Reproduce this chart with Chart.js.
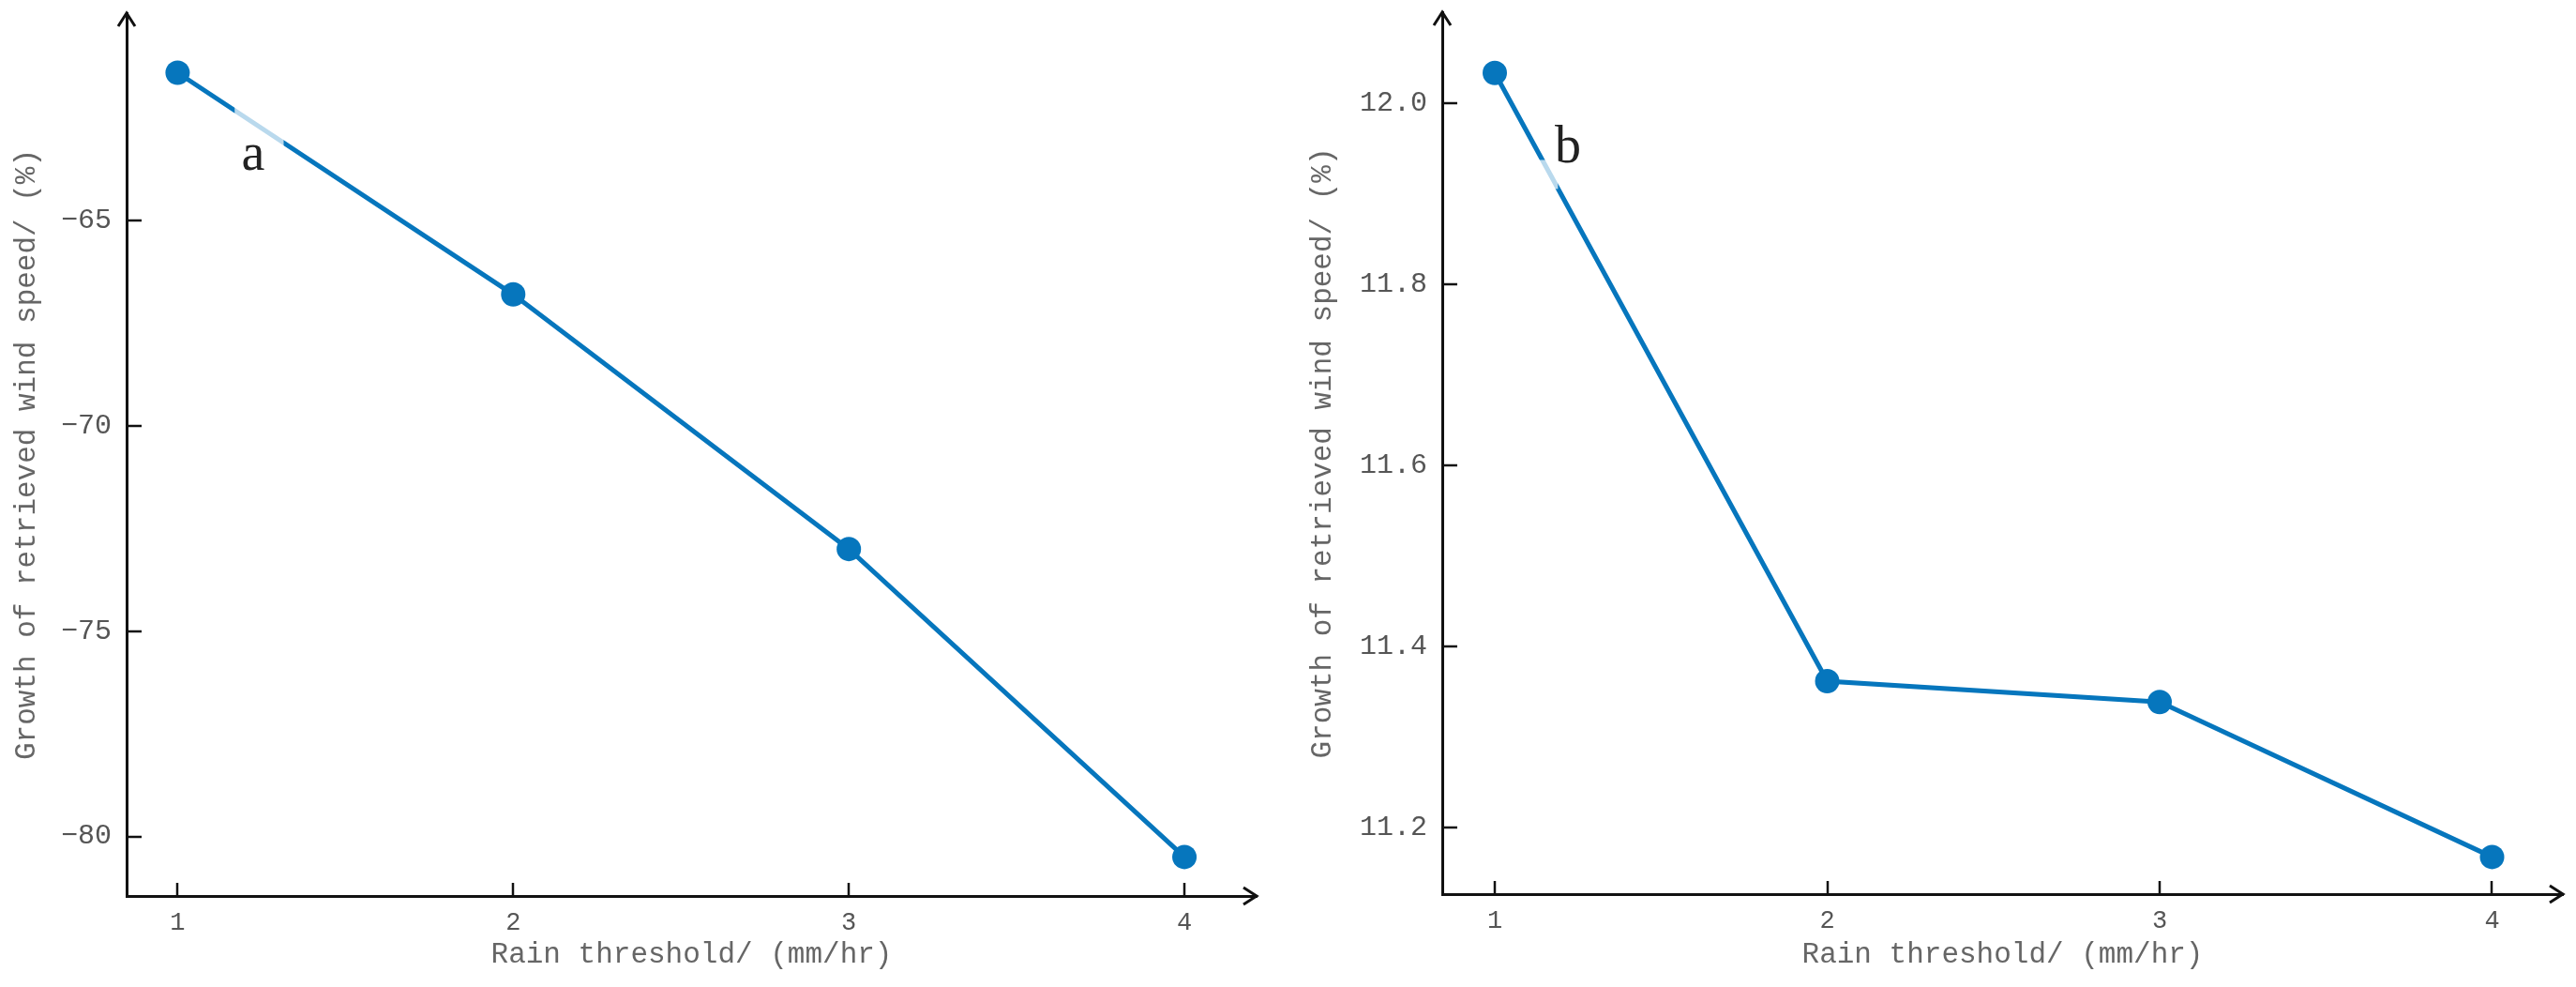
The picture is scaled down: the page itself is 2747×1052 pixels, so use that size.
<!DOCTYPE html>
<html><head><meta charset="utf-8">
<script src="https://cdn.jsdelivr.net/npm/chart.js@4/dist/chart.umd.min.js"></script>
<style>
html,body{margin:0;padding:0;background:#fff;width:2747px;height:1052px;overflow:hidden}
canvas{position:absolute;top:0}
#ca{left:0}
#cb{left:1380px}
</style></head><body>
<canvas id="ca" width="1380" height="1052"></canvas>
<canvas id="cb" width="1367" height="1052"></canvas>
<script>
const rainThresholds = [1, 2, 3, 4];
const xTickValues = [1, 2, 3, 4];
const growthA = [-61.4, -66.8, -73.0, -80.5];
const growthB = [12.033, 11.362, 11.339, 11.168];
const yTicksA = [-80, -75, -70, -65];
const yTicksB = [11.2, 11.4, 11.6, 11.8, 12.0];
const xTitle = 'Rain threshold/ (mm/hr)';
const yTitle = 'Growth of retrieved wind speed/ (%)';
const panelLabels = ['a', 'b'];

const LINE = '#0676bd';
const MONO = '"Liberation Mono", "DejaVu Sans Mono", monospace';

const decor = {
  id: 'decor',
  afterDatasetsDraw(chart, args, o) {
    const ctx = chart.ctx, x = chart.scales.x, y = chart.scales.y;
    ctx.save();
    const b = o.box;
    const x0 = x.getPixelForValue(b[0]), x1 = x.getPixelForValue(b[1]);
    const y0 = y.getPixelForValue(b[2]), y1 = y.getPixelForValue(b[3]);
    ctx.fillStyle = 'rgba(255,255,255,0.72)';
    ctx.fillRect(Math.min(x0, x1), Math.min(y0, y1), Math.abs(x1 - x0), Math.abs(y1 - y0));
    ctx.fillStyle = '#222';
    ctx.font = '56px "Liberation Serif", "DejaVu Serif", serif';
    ctx.textAlign = 'center';
    ctx.textBaseline = 'middle';
    ctx.fillText(o.label, x.getPixelForValue(o.pos[0]), y.getPixelForValue(o.pos[1]));
    ctx.restore();
  },
  afterDraw(chart) {
    const ctx = chart.ctx, x = chart.scales.x, y = chart.scales.y, a = chart.chartArea;
    ctx.save();
    ctx.strokeStyle = '#111';
    ctx.lineWidth = 2.5;
    y.ticks.forEach(t => {
      const py = Math.round(y.getPixelForValue(t.value));
      ctx.beginPath(); ctx.moveTo(a.left, py); ctx.lineTo(a.left + 16, py); ctx.stroke();
    });
    x.ticks.forEach(t => {
      const px = Math.round(x.getPixelForValue(t.value));
      ctx.beginPath(); ctx.moveTo(px, a.bottom); ctx.lineTo(px, a.bottom - 14); ctx.stroke();
    });
    ctx.lineWidth = 3;
    ctx.lineJoin = 'miter';
    ctx.beginPath(); ctx.moveTo(a.left - 9, a.top + 14); ctx.lineTo(a.left, a.top); ctx.lineTo(a.left + 9, a.top + 14); ctx.stroke();
    ctx.beginPath(); ctx.moveTo(a.right - 14, a.bottom - 9); ctx.lineTo(a.right, a.bottom); ctx.lineTo(a.right - 14, a.bottom + 9); ctx.stroke();
    ctx.restore();
  }
};

function makePanel(id, values, yTicks, cfg) {
  return new Chart(document.getElementById(id), {
    type: 'line',
    data: {
      datasets: [{
        data: rainThresholds.map((r, i) => ({x: r, y: values[i]})),
        borderColor: LINE,
        backgroundColor: LINE,
        borderWidth: 5,
        pointRadius: 13,
        pointBorderWidth: 0,
        pointBackgroundColor: LINE,
        tension: 0,
        clip: false
      }]
    },
    options: {
      responsive: false,
      devicePixelRatio: 1,
      animation: false,
      events: [],
      layout: {padding: cfg.padding},
      plugins: {
        legend: {display: false},
        tooltip: {enabled: false},
        decor: {label: cfg.label, pos: cfg.labelPos, box: cfg.box}
      },
      scales: {
        x: {
          type: 'linear',
          min: cfg.xMin, max: cfg.xMax,
          afterBuildTicks: s => { s.ticks = xTickValues.map(v => ({value: v})); },
          afterFit: s => { s.height = cfg.xHeight; s.paddingLeft = 0; s.paddingRight = 0; },
          grid: {display: false, drawTicks: false},
          border: {display: true, color: '#111', width: 3},
          ticks: {
            padding: 13, color: '#555',
            font: {family: MONO, size: 27},
            callback: v => String(v)
          },
          title: {
            display: true, text: xTitle, color: '#666',
            font: {family: MONO, size: 31},
            padding: {top: 0, bottom: 16}
          }
        },
        y: {
          type: 'linear',
          min: cfg.yMin, max: cfg.yMax,
          afterBuildTicks: s => { s.ticks = yTicks.map(v => ({value: v})); },
          afterFit: s => { s.width = cfg.yWidth; s.paddingTop = 0; s.paddingBottom = 0; },
          grid: {display: false, drawTicks: false},
          border: {display: true, color: '#111', width: 3},
          ticks: {
            padding: cfg.tickPad, color: '#555',
            font: {family: MONO, size: 30},
            callback: cfg.fmt
          },
          title: {
            display: true, text: yTitle, color: '#666',
            font: {family: MONO, size: 31},
            padding: {top: cfg.titlePad, bottom: 0}
          }
        }
      }
    },
    plugins: [decor]
  });
}

makePanel('ca', growthA, yTicksA, {
  padding: {top: 14, right: 40, left: 0, bottom: 0},
  xMin: 0.848, xMax: 4.215, yMin: -81.45, yMax: -59.95,
  yWidth: 135, xHeight: 97, tickPad: 16, titlePad: 10,
  fmt: v => (v < 0 ? '\u2212' : '') + Math.abs(v),
  label: panelLabels[0], labelPos: [1.225, -63.42],
  box: [1.17, 1.316, -61.8, -63.5]
});

makePanel('cb', growthB, yTicksB, {
  padding: {top: 13, right: 14, left: 0, bottom: 0},
  xMin: 0.842, xMax: 4.213, yMin: 11.127, yMax: 12.1,
  yWidth: 158, xHeight: 99, tickPad: 16, titlePad: 12,
  fmt: v => v.toFixed(1),
  label: panelLabels[1], labelPos: [1.22, 11.95],
  box: [1.13, 1.19, 11.937, 11.905]
});
</script>
</body></html>
